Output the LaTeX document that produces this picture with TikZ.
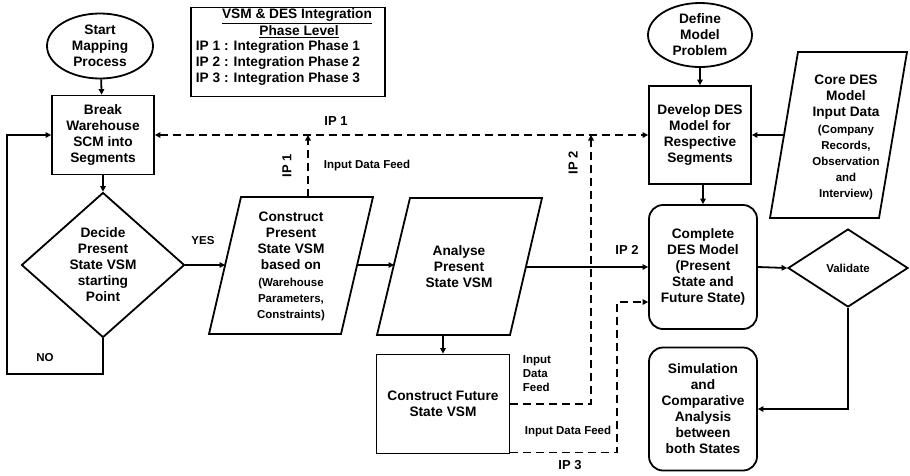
\documentclass[tikz,border=0pt]{standalone}
\usepackage{fontspec}
\setmainfont{Liberation Sans}
\usetikzlibrary{arrows.meta,shapes.geometric}
\newcommand{\smallline}{\fontsize{11.5}{14}\selectfont}
\begin{document}
\begin{tikzpicture}[x=1pt,y=-1pt,line width=1.8pt,
  >={Triangle[length=5.5pt,width=5.5pt]},
  txt/.style={font=\bfseries\fontsize{13.7}{16}\selectfont,align=center,inner sep=0pt},
  smalltxt/.style={font=\bfseries\fontsize{11.5}{14}\selectfont,align=center,inner sep=0pt},
  iplabel/.style={font=\bfseries\fontsize{13}{15}\selectfont,inner sep=0pt},
  oval/.style={txt,draw,ellipse},
  box/.style={txt,draw,rectangle},
  rbox/.style={txt,draw,rectangle,rounded corners=14pt},
  dia/.style={draw,diamond,inner sep=0pt},
  flow/.style={->},
  feed/.style={->,dash pattern=on 8pt off 5pt}]
\useasboundingbox (0,0) rectangle (910,475);

% legend
\node[draw,rectangle,minimum width=194pt,minimum height=89pt] (legend) at (288,52) {};
\node[txt] (legt1) at (297,16) {\underline{VSM \& DES Integration}};
\node[txt] (legt2) at (299,32) {\underline{Phase Level}};
\node[txt,align=left,anchor=west] (legl) at (195,63)
  {IP 1 : Integration Phase 1\\IP 2 : Integration Phase 2\\IP 3 : Integration Phase 3};

% left column
\node[oval,minimum width=106pt,minimum height=65pt] (start) at (100,46) {Start\\Mapping\\Process};
\node[box,minimum width=102pt,minimum height=79pt] (break) at (103,135) {Break\\Warehouse\\SCM into\\Segments};
\node[dia,minimum width=163pt,minimum height=145pt] (decide) at (103,265) {};
\node[txt] (decidetxt) at (103,265) {Decide\\Present\\State VSM\\starting\\Point};
\coordinate (noC) at (7,374);

% construct present state (parallelogram)
\draw (241,197) -- (373,197) -- (341,334) -- (209,334) -- cycle;
\node[txt] (cps) at (291,266) {Construct\\Present\\State VSM\\based on\\[1pt]\smallline(Warehouse\\\smallline Parameters,\\\smallline Constraints)};
\coordinate (cpsL) at (225,265);
\coordinate (cpsR) at (357,265);
\coordinate (cpsT) at (308,197);
\coordinate (j1) at (308,135);

% analyse present state (parallelogram)
\draw (410,198) -- (542,198) -- (510,335) -- (377,335) -- cycle;
\node[txt] (ana) at (459,267) {Analyse\\Present\\State VSM};
\coordinate (anaL) at (394,265);
\coordinate (anaR) at (526,267);
\coordinate (anaB) at (443,335);

\node[box,minimum width=133pt,minimum height=99pt] (future) at (443,404) {Construct Future\\State VSM};
\coordinate (f3) at ([yshift=2pt]future.south east);
\coordinate (j2) at (591,135);
\coordinate (c3) at (617,302);

% right part
\node[oval,minimum width=104pt,minimum height=64pt] (define) at (700,35) {Define\\Model\\Problem};
\node[box,minimum width=102pt,minimum height=98pt] (develop) at (700,135) {Develop DES\\Model for\\Respective\\Segments};
\node[rbox,minimum width=108pt,minimum height=124pt] (complete) at (703,267) {Complete\\DES Model\\(Present\\State and\\Future State)};
\node[rbox,minimum width=108pt,minimum height=123pt] (sim) at (703,409) {Simulation\\and\\Comparative\\Analysis\\between\\both States};
\node[dia,smalltxt,minimum width=120pt,minimum height=78pt] (validate) at (848,268) {Validate};

% core DES input data (parallelogram)
\draw (798,52) -- (907,52) -- (879,218) -- (770,218) -- cycle;
\node[txt] (core) at (846,137) {Core DES\\Model\\Input Data\\[1pt]\smallline(Company\\\smallline Records,\\\smallline Observation\\\smallline and\\\smallline Interview)};
\coordinate (coreL) at (784,135);

% solid connectors
\draw[flow] (start) -- (break);
\draw[flow] (break) -- (decide.north);
\draw[flow] (decide.east) -- (cpsL);
\draw[flow] (decide.south) |- (noC) |- (break.west);
\draw[flow] (cpsR) -- (anaL);
\draw[flow] (anaR) -- (anaR -| complete.west);
\draw[flow] (anaB) -- (future.north);
\draw[flow] (define) -- (develop);
\draw[flow] (develop.south -| complete.north) -- (complete.north);
\draw[flow] (coreL) -- (develop.east);
\draw[flow] (complete.east) -- (validate.west);
\draw[flow] (validate.south) |- (sim.east);

% dashed data feeds
\draw[feed] (cpsT) -- (j1);
\draw[feed,<->] (break.east) -- (develop.west);
\draw[feed] (future.east) -| (j2);
\draw[feed] (f3) -| (c3) -- (c3 -| complete.west);

% labels
\node[smalltxt] (yes) at (203,241) {YES};
\node[smalltxt] (no) at (45,358) {NO};
\node[iplabel] (ip1h) at (336,121) {IP 1};
\node[iplabel,rotate=90] (ip1v) at (287,166) {IP 1};
\node[smalltxt] (feed1) at (367,166) {Input Data Feed};
\node[iplabel,rotate=90] (ip2v) at (573,163) {IP 2};
\node[iplabel] (ip2h) at (627,250) {IP 2};
\node[smalltxt,align=left,anchor=west] (feed2) at (522,374) {Input\\Data\\Feed};
\node[smalltxt] (feed3) at (568,432) {Input Data Feed};
\node[iplabel] (ip3) at (570,465) {IP 3};
\end{tikzpicture}
\end{document}
